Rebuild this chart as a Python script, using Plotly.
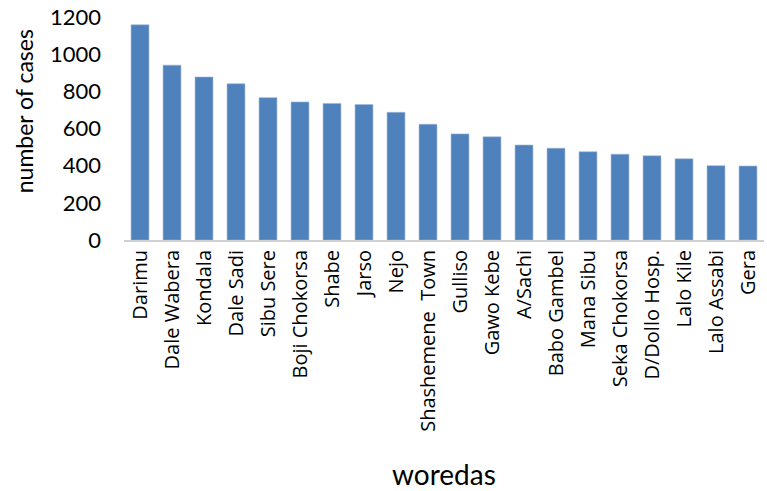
import plotly.graph_objects as go

woredas = ["Darimu", "Dale Wabera", "Kondala", "Dale Sadi", "Sibu Sere", "Boji Chokorsa",
           "Shabe", "Jarso", "Nejo", "Shashemene\u00a0 Town", "Gulliso", "Gawo Kebe", "A/Sachi",
           "Babo Gambel", "Mana Sibu", "Seka Chokorsa", "D/Dollo Hosp.", "Lalo Kile",
           "Lalo Assabi", "Gera"]
cases = [1158, 941, 877, 841, 766, 743, 735, 729, 687, 623, 571, 555, 511, 494, 475,
         462, 453, 437, 400, 398]
y_ticks = [0, 200, 400, 600, 800, 1000, 1200]

fig = go.Figure(go.Bar(
    x=woredas, y=cases,
    marker=dict(color="#4F81BD", line=dict(color="#9db7d9", width=0.6)),
))

fig.update_layout(
    width=767, height=491,
    margin=dict(l=124, r=3, t=17, b=251),
    plot_bgcolor="white", paper_bgcolor="white",
    bargap=0.44,
    showlegend=False,
    font=dict(family="Lato, sans-serif", color="black"),
)
fig.update_xaxes(
    type="category",
    tickangle=-90,
    tickfont=dict(family="Open Sans", size=20, color="black"),
    showline=True, linecolor="#d0d0d0", linewidth=2,
    showgrid=False, ticks="", ticklabelstandoff=0,
)
fig.update_yaxes(
    range=[0, 1200], tickvals=y_ticks,
    tickfont=dict(family="Lato, sans-serif", size=22, color="black"),
    showgrid=False, zeroline=False, showline=False,
    ticks="", ticklabelstandoff=22,
)
fig.add_annotation(text="number of cases", xref="paper", yref="paper",
                   x=-0.156, y=0.578, xanchor="center", yanchor="middle", showarrow=False,
                   textangle=-90, font=dict(family="Lato, sans-serif", size=23, color="black"))
fig.add_annotation(text="woredas", xref="paper", yref="paper",
                   x=0.5, y=-1.049, xanchor="center", yanchor="middle", showarrow=False,
                   font=dict(family="Lato, sans-serif", size=28, color="black"))

fig.write_html("out.html")
